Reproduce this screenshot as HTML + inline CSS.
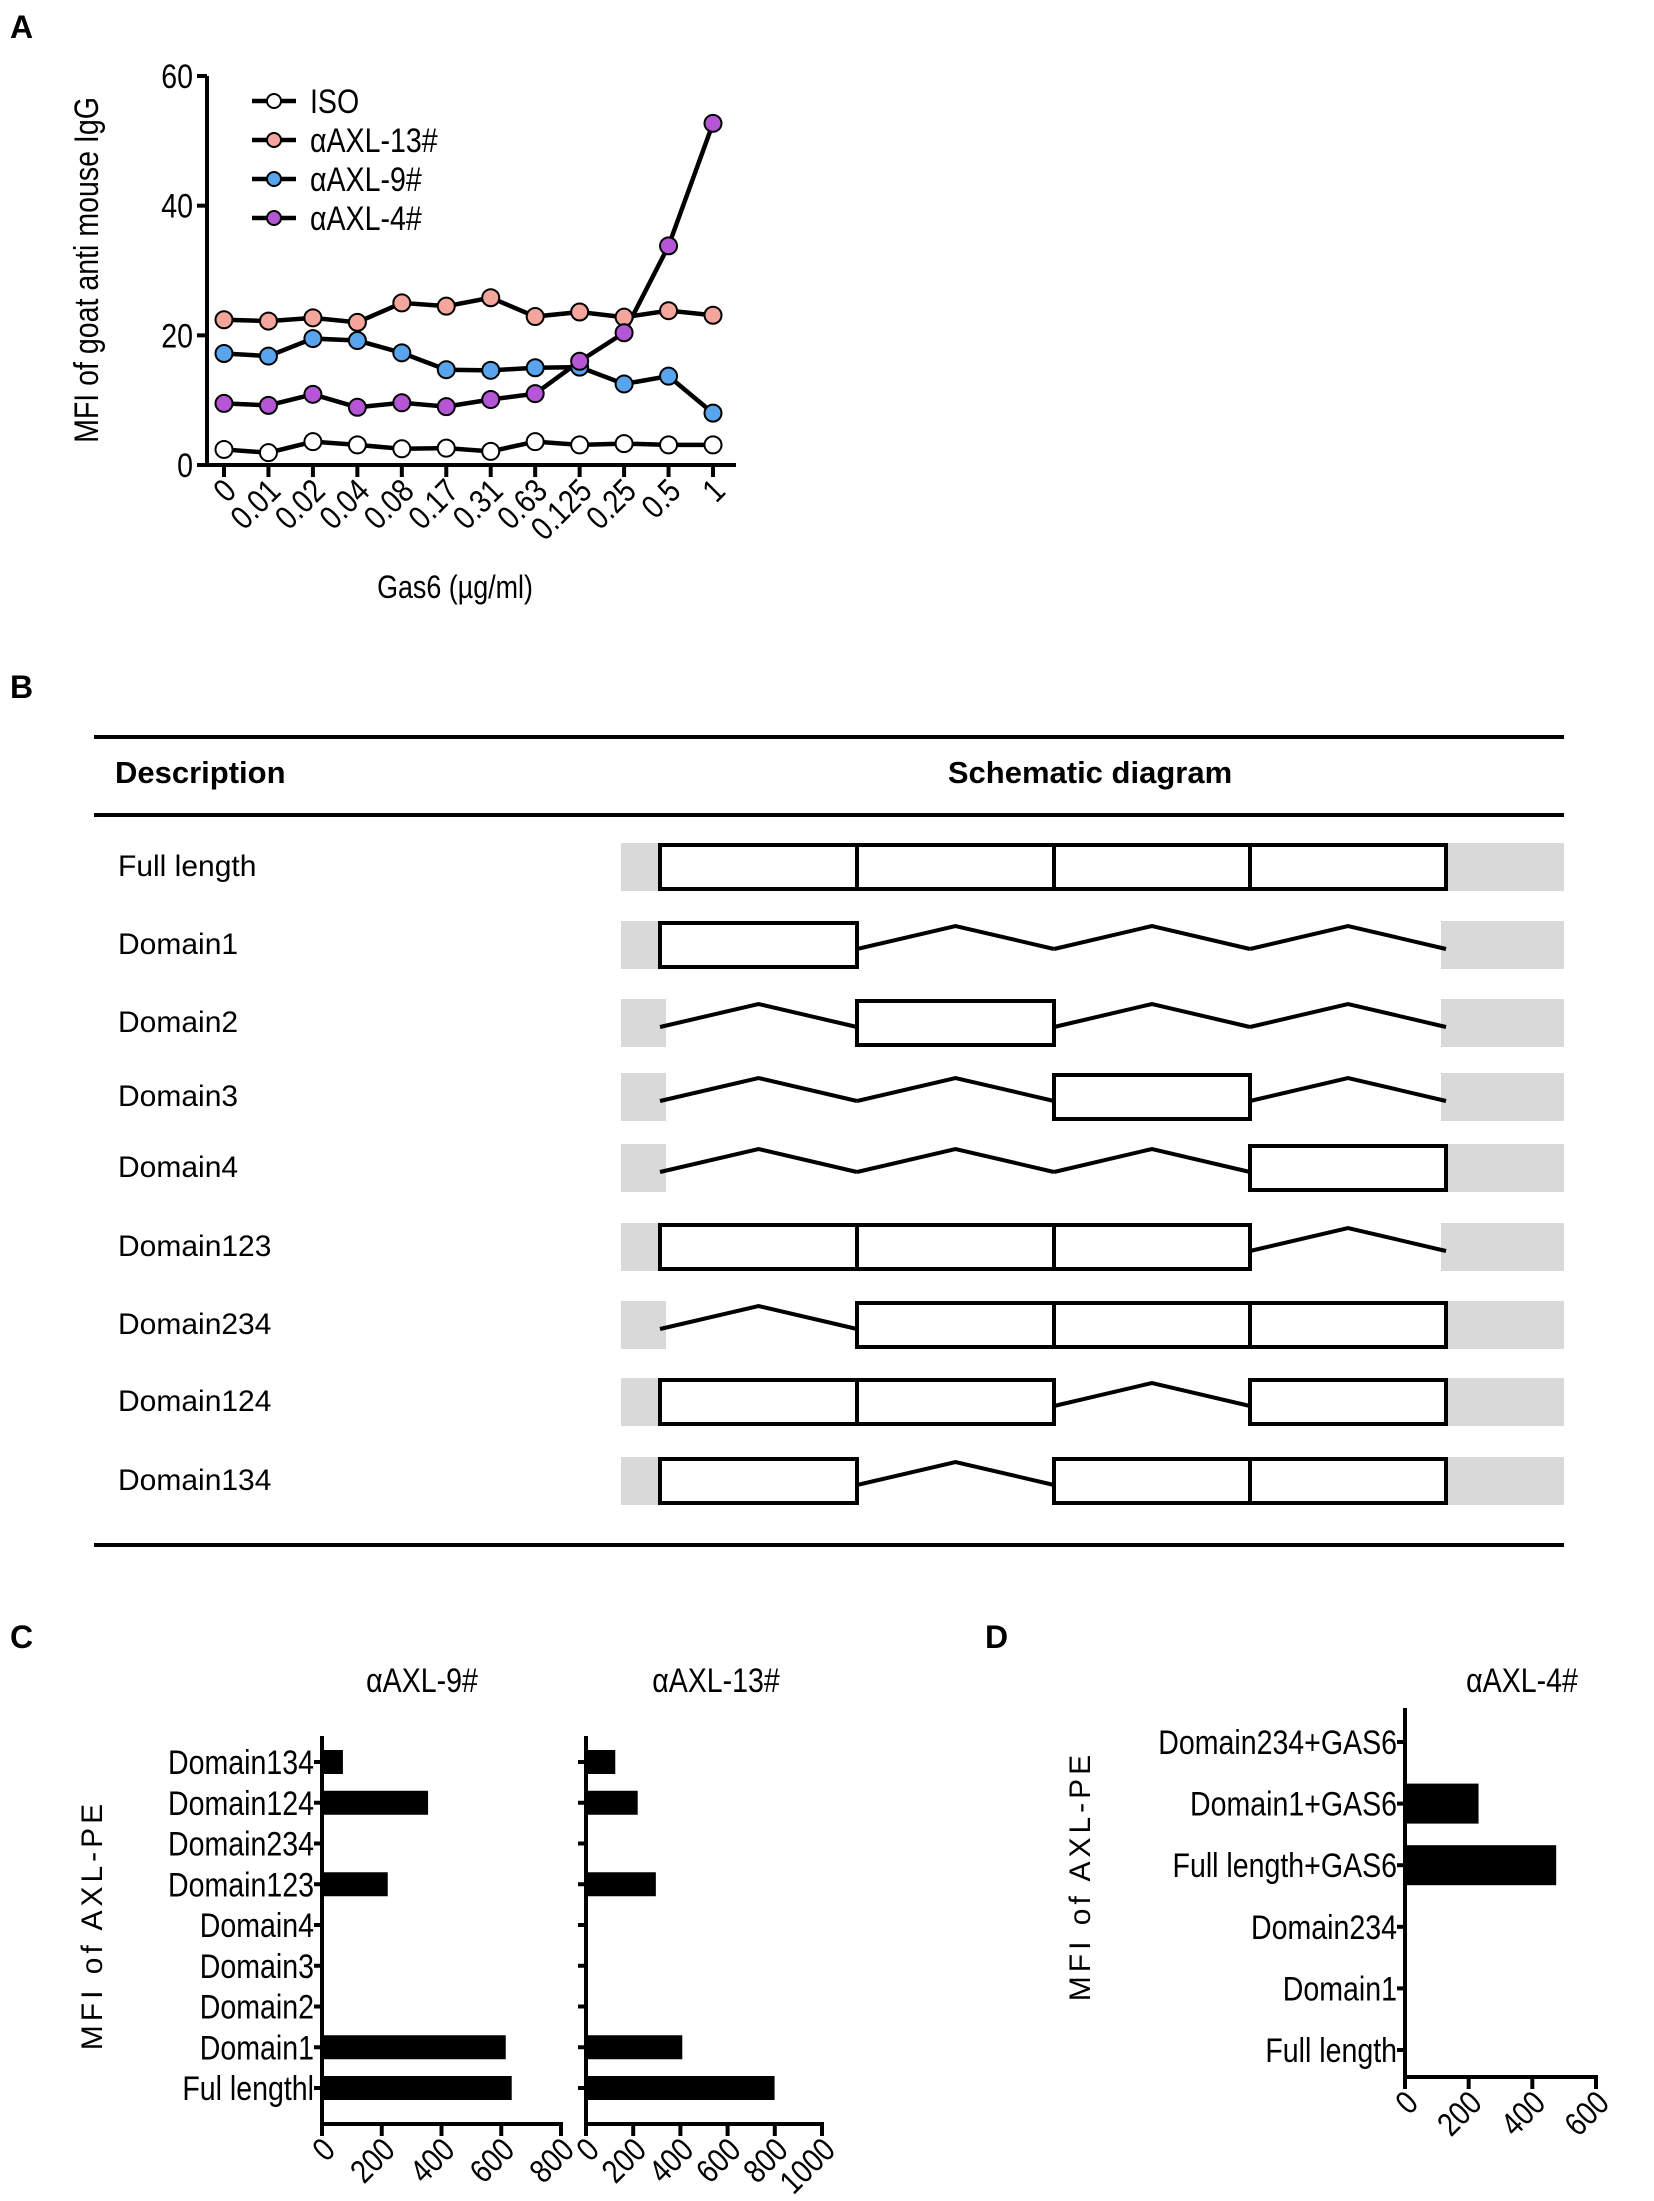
<!DOCTYPE html>
<html><head><meta charset="utf-8"><style>
html,body{margin:0;padding:0;background:#fff}
svg{display:block;font-family:"Liberation Sans",sans-serif}
</style></head><body>
<svg id="fig" width="1654" height="2201" viewBox="0 0 1654 2201" xmlns="http://www.w3.org/2000/svg"></svg>
<script>
const categoriesA = ["0","0.01","0.02","0.04","0.08","0.17","0.31","0.63","0.125","0.25","0.5","1"];
const isoValues = [2.4,1.9,3.6,3.1,2.5,2.6,2.1,3.6,3.1,3.3,3.1,3.1];
const axl13Values = [22.4,22.2,22.7,22.0,25.0,24.5,25.8,22.9,23.6,22.8,23.8,23.1];
const axl9Values = [17.2,16.8,19.5,19.2,17.3,14.7,14.6,15.0,15.1,12.5,13.7,8.0];
const axl4Values = [9.5,9.2,10.9,8.9,9.6,9.0,10.1,11.0,16.0,20.4,33.8,52.7];
const yTicksA = [0,20,40,60];
const rowsB = ["Full length","Domain1","Domain2","Domain3","Domain4","Domain123","Domain234","Domain124","Domain134"];
const domainsB = [[1,1,1,1],[1,0,0,0],[0,1,0,0],[0,0,1,0],[0,0,0,1],[1,1,1,0],[0,1,1,1],[1,1,0,1],[1,0,1,1]];
const categoriesC = ["Domain134","Domain124","Domain234","Domain123","Domain4","Domain3","Domain2","Domain1","Ful lengthl"];
const axl9Bars = [70,355,0,220,0,0,0,615,635];
const axl13Bars = [124,219,0,296,3,2,2,408,799];
const ticksC1 = [0,200,400,600,800];
const ticksC2 = [0,200,400,600,800,1000];
const categoriesD = ["Domain234+GAS6","Domain1+GAS6","Full length+GAS6","Domain234","Domain1","Full length"];
const axl4Bars = [0,231,475,4,6,3];
const ticksD = [0,200,400,600];

const svg = document.getElementById('fig');
const NS = 'http://www.w3.org/2000/svg';
function mk(tag, attrs, parent){ const e=document.createElementNS(NS,tag); for(const k in attrs) e.setAttribute(k,attrs[k]); (parent||svg).appendChild(e); return e; }
function txt(s, attrs, name, parent){ const e=mk('text',attrs,parent); e.textContent=s;   return e; }
// narrow text: placed at (x,y), horizontally compressed
function ntxt(s, x, y, size, anchor, rot, name, parent){
  const t = `translate(${x},${y})` + (rot?` rotate(${rot})`:'') + ' scale(0.84,1)';
  return txt(s,{x:0,y:0,'font-size':size,'text-anchor':anchor,transform:t},name,parent);
}
function grp(name){ const g=mk('g',{});   return g; }

txt('A',{x:10,y:38,'font-size':32,'font-weight':'bold'},'panel-label-a');
txt('B',{x:10,y:698,'font-size':32,'font-weight':'bold'},'panel-label-b');
txt('C',{x:10,y:1648,'font-size':32,'font-weight':'bold'},'panel-label-c');
txt('D',{x:985,y:1648,'font-size':32,'font-weight':'bold'},'panel-label-d');

// ---- Panel A ----
const gA = grp('line-chart-a');
const ax0=207, axEnd=736, y0=465, y60=76;
const xA = i => 224 + i*(713-224)/(categoriesA.length-1);
const yA = v => y0 - v*(y0-y60)/60;
mk('line',{x1:ax0,y1:y60,x2:ax0,y2:y0+2,stroke:'#000','stroke-width':4},gA);
mk('line',{x1:ax0-2,y1:y0,x2:axEnd,y2:y0,stroke:'#000','stroke-width':4},gA);
yTicksA.forEach(v=>{
  mk('line',{x1:ax0-10,y1:yA(v),x2:ax0,y2:yA(v),stroke:'#000','stroke-width':4},gA);
  ntxt(String(v),ax0-14,yA(v)+12,34,'end',0,'y-tick-label',gA);
});
categoriesA.forEach((c,i)=>{
  mk('line',{x1:xA(i),y1:y0,x2:xA(i),y2:y0+12,stroke:'#000','stroke-width':4},gA);
  ntxt(c,xA(i)+14,y0+28,33,'end',-45,'x-tick-label',gA);
});
ntxt('MFI of goat anti mouse IgG',98,270,34,'middle',-90,'y-axis-title',gA);
ntxt('Gas6 (µg/ml)',455,598,32,'middle',0,'x-axis-title',gA);
const seriesA = [[isoValues,'#fff','iso'],[axl13Values,'#f4a69c','axl-13'],[axl9Values,'#58a5ee','axl-9'],[axl4Values,'#b556d6','axl-4']];
const legendNames = ['ISO','αAXL-13#','αAXL-9#','αAXL-4#'];
seriesA.forEach(([vals,col,nm])=>{
  const pts = vals.map((v,i)=>xA(i)+','+yA(v)).join(' ');
  const pl = mk('polyline',{points:pts,fill:'none',stroke:'#000','stroke-width':4.5},gA);
  
});
seriesA.forEach(([vals,col,nm])=>{
  vals.forEach((v,i)=>{
    const c = mk('circle',{cx:xA(i),cy:yA(v),r:8.5,fill:col,stroke:'#000','stroke-width':2},gA);
    
    
  });
});
seriesA.forEach(([vals,col,nm],k)=>{
  const ly = 101 + k*39;
  const lg = mk('g',{},gA);
  
  
  mk('line',{x1:252,y1:ly,x2:296,y2:ly,stroke:'#000','stroke-width':4.5},lg);
  mk('circle',{cx:274,cy:ly,r:7,fill:col,stroke:'#000','stroke-width':2},lg);
  ntxt(legendNames[k],310,ly+12,34,'start',0,'legend-label',lg);
});

// ---- Panel B ----
const gB = grp('schematic-table-b');
mk('line',{x1:94,y1:737,x2:1564,y2:737,stroke:'#000','stroke-width':4},gB);
mk('line',{x1:94,y1:815,x2:1564,y2:815,stroke:'#000','stroke-width':4},gB);
mk('line',{x1:94,y1:1545,x2:1564,y2:1545,stroke:'#000','stroke-width':4},gB);
txt('Description',{x:115,y:783,'font-size':31,'font-weight':'bold'},'description-header',gB);
txt('Schematic diagram',{x:1090,y:783,'font-size':31,'font-weight':'bold','text-anchor':'middle'},'schematic-header',gB);
const rowY = [867,945,1023,1097,1168,1247,1325,1402,1481];
const edges = [660,857,1054,1250,1446];
rowsB.forEach((r,i)=>{
  const cy=rowY[i];
  const g = mk('g',{},gB);
  
  
  txt(r,{x:118,y:cy+9,'font-size':30},'row-label',g);
  mk('rect',{x:621,y:cy-24,width:45,height:48,fill:'#d9d9d9'},g);
  mk('rect',{x:1441,y:cy-24,width:123,height:48,fill:'#d9d9d9'},g);
  domainsB[i].forEach((on,k)=>{
    const xL=edges[k], xR=edges[k+1];
    if(on){ mk('rect',{x:xL,y:cy-22,width:xR-xL,height:44,fill:'#fff',stroke:'#000','stroke-width':4},g); }
    else { mk('polyline',{points:`${xL},${cy+4} ${(xL+xR)/2},${cy-19} ${xR},${cy+4}`,fill:'none',stroke:'#000','stroke-width':4},g); }
  });
});

// ---- bar charts ----
function barChart(name, cats, vals, ticks, axX, axRight, top, bottom, rowTop, rowBot, barH, showLabels){
  const g = grp(name);
  const max = ticks[ticks.length-1];
  const xs = v => axX + v*(axRight-axX)/max;
  const ys = i => rowTop + i*(rowBot-rowTop)/(cats.length-1);
  mk('line',{x1:axX,y1:top,x2:axX,y2:bottom,stroke:'#000','stroke-width':4},g);
  mk('line',{x1:axX-2,y1:bottom,x2:axRight+2,y2:bottom,stroke:'#000','stroke-width':4},g);
  ticks.forEach(t=>{
    mk('line',{x1:xs(t),y1:bottom,x2:xs(t),y2:bottom+12,stroke:'#000','stroke-width':4},g);
    ntxt(String(t),xs(t)+15,bottom+28,33,'end',-45,'x-tick-label',g);
  });
  cats.forEach((c,i)=>{
    mk('line',{x1:axX-8,y1:ys(i),x2:axX,y2:ys(i),stroke:'#000','stroke-width':4},g);
    if(showLabels) ntxt(c,axX-8,ys(i)+12,34,'end',0,'y-category-label',g);
    const b = mk('rect',{x:axX,y:ys(i)-barH/2,width:Math.max(xs(vals[i])-axX,0),height:barH,fill:'#000'},g);
    
    
  });
  return g;
}
barChart('bar-chart-axl9',categoriesC,axl9Bars,ticksC1,322,561,1736,2124,1762,2088,24,true);
barChart('bar-chart-axl13',categoriesC,axl13Bars,ticksC2,586,822,1736,2124,1762,2088,24,false);
ntxt('αAXL-9#',422,1692,34,'middle',0,'chart-title-axl9');
ntxt('αAXL-13#',716,1692,34,'middle',0,'chart-title-axl13');
txt('MFI of AXL-PE',{x:0,y:0,'font-size':30,'text-anchor':'middle','letter-spacing':4,transform:`translate(102,1925) rotate(-90)`},'y-axis-title-c');

barChart('bar-chart-axl4',categoriesD,axl4Bars,ticksD,1405,1596,1708,2077,1742,2050,40,true);
ntxt('αAXL-4#',1522,1692,34,'middle',0,'chart-title-axl4');
txt('MFI of AXL-PE',{x:0,y:0,'font-size':30,'text-anchor':'middle','letter-spacing':4,transform:`translate(1090,1876) rotate(-90)`},'y-axis-title-d');
</script>
</body></html>
